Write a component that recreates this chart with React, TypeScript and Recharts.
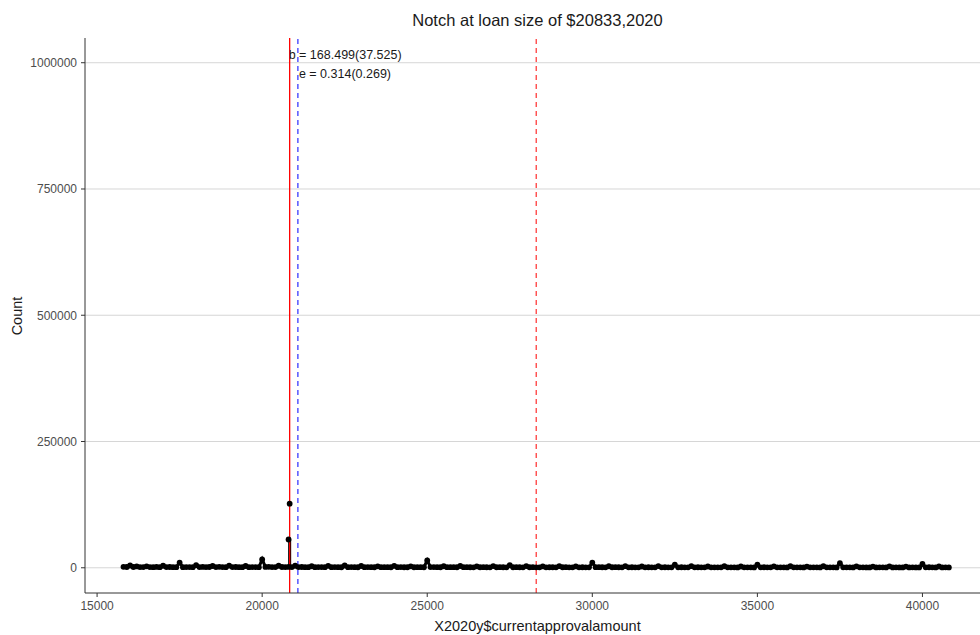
import React from 'react';
import { ComposedChart, Line, Scatter, XAxis, YAxis, CartesianGrid, ReferenceLine } from 'recharts';

// loan amounts binned by $100, starting at 15800
const binStart = 15800;
const binWidth = 100;
const binCounts = [
  1800, 1500,
  4500, 1500, 2600, 1400, 1300, 2800, 1300, 1200, 1600, 1200, // 16k
  4000, 1300, 1500, 1200, 1100, 10000, 1200, 1400, 1300, 1100, // 17k
  5200, 1400, 1600, 1300, 1500, 3500, 1300, 1900, 1400, 1200, // 18k
  4200, 1300, 1500, 1200, 1100, 3500, 1200, 1400, 1300, 1100, // 19k
  16600, 1600, 1800, 1400, 1300, 4000, 1500, 1400, 1700, 1300, // 20k
  4000, 1300, 1500, 1200, 1100, 3000, 1200, 1400, 1300, 1100, // 21k
  3800, 1200, 1400, 1100, 1000, 4500, 1100, 1300, 1200, 1000, // 22k
  3500, 1200, 1300, 1100, 1000, 2800, 1100, 1200, 1100, 1000, // 23k
  3600, 1100, 1300, 1000, 1000, 2800, 1000, 1200, 1100, 1000, // 24k
  14500, 1300, 1400, 1100, 1000, 3000, 1100, 1200, 1100, 1000, // 25k
  3500, 1100, 1200, 1000, 900, 2700, 1000, 1100, 1000, 900, // 26k
  3400, 1000, 1200, 1000, 900, 5000, 1000, 1100, 1000, 900, // 27k
  3300, 1000, 1100, 900, 900, 2600, 900, 1000, 1000, 900, // 28k
  3200, 1000, 1100, 900, 800, 2600, 900, 1000, 900, 800, // 29k
  10000, 1100, 1200, 1000, 900, 3000, 1000, 1100, 1000, 900, // 30k
  3200, 900, 1000, 900, 800, 2500, 900, 1000, 900, 800, // 31k
  3300, 900, 1000, 900, 800, 6000, 900, 1000, 900, 800, // 32k
  3100, 900, 1000, 800, 800, 2500, 800, 900, 900, 800, // 33k
  3000, 800, 900, 800, 700, 2500, 800, 900, 800, 700, // 34k
  6000, 900, 1000, 800, 800, 2600, 800, 900, 800, 700, // 35k
  3000, 800, 900, 800, 700, 2400, 800, 900, 800, 700, // 36k
  3000, 800, 900, 800, 700, 9000, 800, 900, 800, 700, // 37k
  2900, 800, 900, 700, 700, 2400, 700, 800, 800, 700, // 38k
  2900, 700, 800, 700, 700, 2300, 700, 800, 700, 700, // 39k
  7500, 900, 1000, 800, 700, 2500, 700, 800, 700, // 40k
];

// bunching right at the notch
const notchPoints = [
  { amount: 20800, count: 56000 },
  { amount: 20833, count: 127000 },
];
const notchLine = [
  { amount: 20832, count: 1400 },
  { amount: 20833, count: 56000 },
  { amount: 20834, count: 1400 },
];

const notch = 20833;
const upperBound = 21083;
const marginalBuncher = 28300;
const noteB = 'b = 168.499(37.525)';
const noteE = 'e = 0.314(0.269)';

const xTicks = [15000, 20000, 25000, 30000, 35000, 40000];
const yTicks = [0, 250000, 500000, 750000, 1000000];

const binned = binCounts.map((count, i) => ({ amount: binStart + i * binWidth, count }));
const lineData = [...binned, ...notchLine].sort((a, b) => a.amount - b.amount);
const pointData = [...binned, ...notchPoints];

const font = '"Liberation Sans", Arial, sans-serif';

const note = (text: string, dx: number, dy: number) => (props: any) => {
  const vb = props.viewBox || {};
  return (
    <text x={vb.x + dx} y={vb.y + dy} fontSize={12.5} fill="#1a1a1a" fontFamily={font}>
      {text}
    </text>
  );
};

export default function App() {
  return (
    <div style={{ position: 'absolute', left: 0, top: 0, width: 980, height: 635, overflow: 'hidden', background: '#fff', fontFamily: font }}>
      <div style={{ position: 'absolute', left: 0, top: 11, width: 1075, textAlign: 'center', fontSize: 16.5, color: '#1a1a1a' }}>
        Notch at loan size of $20833,2020
      </div>
      <div style={{ position: 'absolute', left: 17, top: 316, width: 0, height: 0 }}>
        <div style={{ position: 'absolute', transform: 'translate(-50%, -50%) rotate(-90deg)', fontSize: 14.5, color: '#1a1a1a', whiteSpace: 'nowrap' }}>
          Count
        </div>
      </div>
      <ComposedChart width={990} height={635} margin={{ top: 38, right: 0, left: 0, bottom: 0 }}>
        <CartesianGrid vertical={false} syncWithTicks stroke="#d6d6d6" />
        <XAxis
          dataKey="amount"
          type="number"
          domain={[14634, 42046]}
          ticks={xTicks}
          interval={0}
          height={42}
          tickSize={4}
          tickMargin={4}
          stroke="#333"
          tick={{ fill: '#4d4d4d', fontSize: 12, fontFamily: font }}
          label={{ value: 'X2020y$currentapprovalamount', position: 'insideBottom', offset: 4, fill: '#1a1a1a', fontSize: 14.5, fontFamily: font }}
        />
        <YAxis
          dataKey="count"
          type="number"
          domain={[-49950, 1048950]}
          ticks={yTicks}
          interval={0}
          width={85}
          tickSize={4}
          tickMargin={4}
          stroke="#333"
          tick={{ fill: '#4d4d4d', fontSize: 12, fontFamily: font }}
        />
        <Line data={lineData} dataKey="count" type="linear" stroke="#000" strokeWidth={3} dot={false} isAnimationActive={false} />
        <Scatter
          data={pointData}
          dataKey="count"
          fill="#000"
          isAnimationActive={false}
          shape={(p: any) => <circle cx={p.cx} cy={p.cy} r={2.9} fill="#000" />}
        />
        <ReferenceLine x={notch} stroke="#ff0000" strokeWidth={1.3} label={note(noteB, -1, 21)} />
        <ReferenceLine x={upperBound} stroke="#0000ff" strokeWidth={1} strokeDasharray="5 4" label={note(noteE, 1, 40)} />
        <ReferenceLine x={marginalBuncher} stroke="#ff0000" strokeWidth={1} strokeDasharray="5 4" />
      </ComposedChart>
    </div>
  );
}
